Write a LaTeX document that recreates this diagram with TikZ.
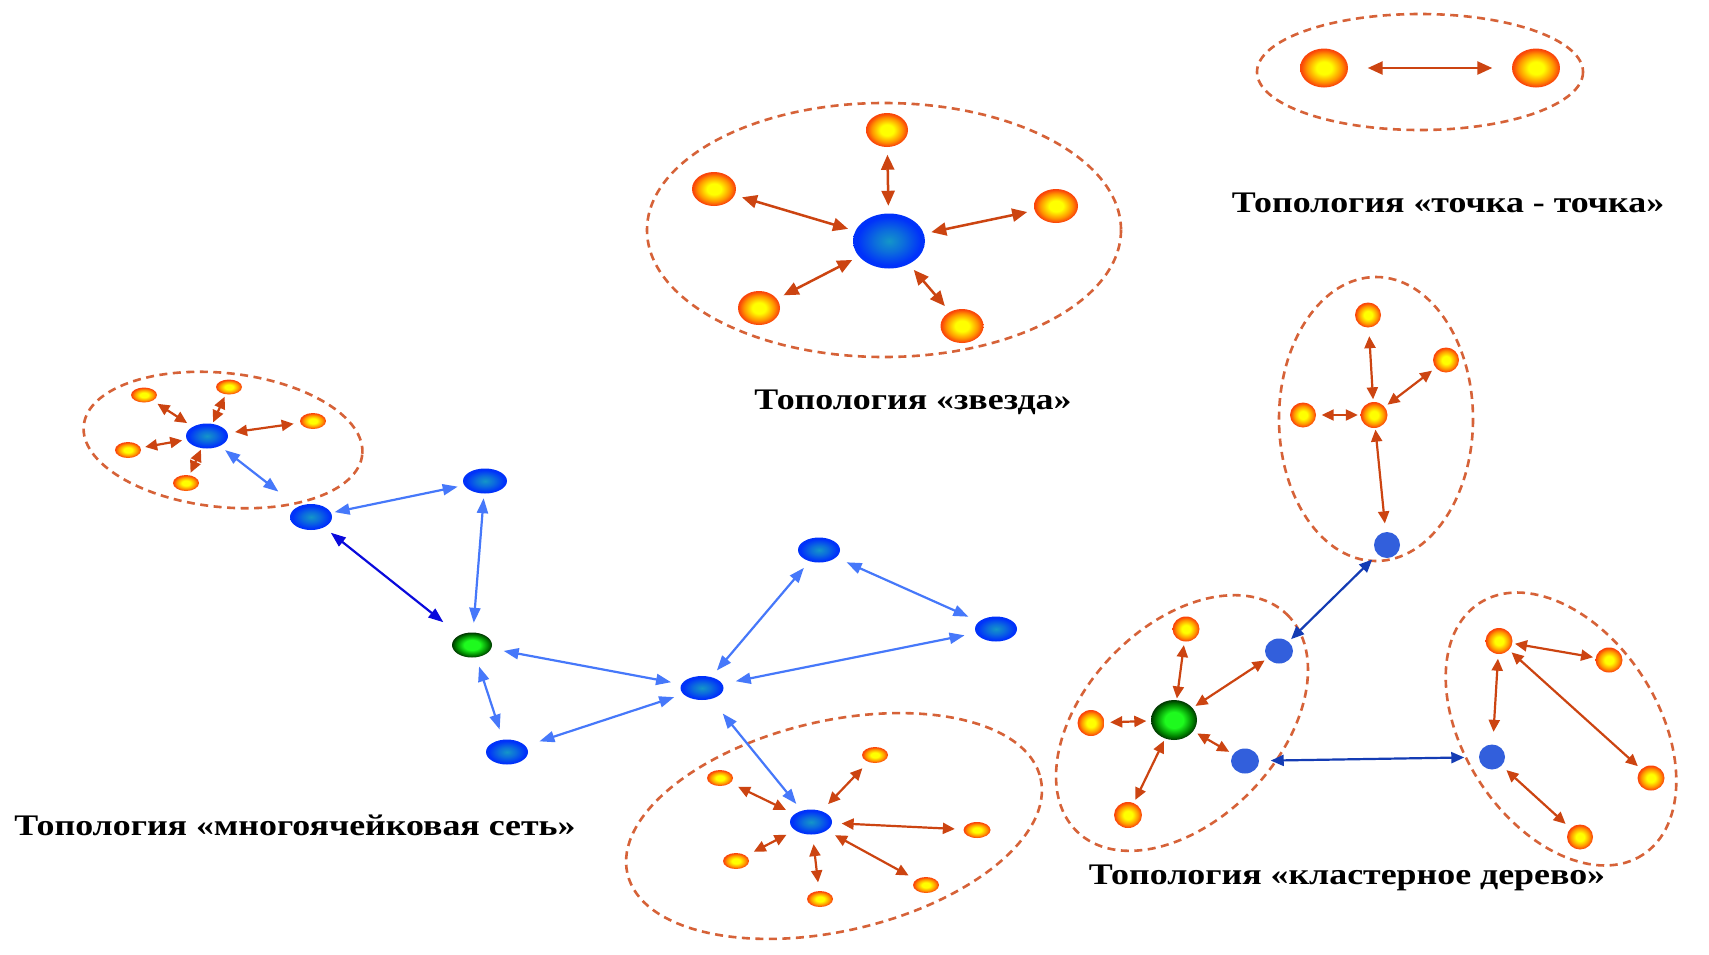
\documentclass[tikz,border=0pt]{standalone}
\usepackage{fontspec}
\newfontfamily\lblfont[FakeStretch=1.2]{Liberation Serif}
\usetikzlibrary{arrows.meta,shapes.geometric}
\definecolor{grpc}{RGB}{214,98,56}
\definecolor{oarc}{RGB}{204,68,17}
\definecolor{lbc}{RGB}{70,120,250}
\definecolor{dbc}{RGB}{10,10,220}
\definecolor{tbc}{RGB}{20,60,180}
\definecolor{flatb}{RGB}{50,95,220}
\definecolor{orbY}{RGB}{255,255,0}
\definecolor{orbO}{RGB}{255,150,0}
\definecolor{orbR}{RGB}{250,70,10}
\definecolor{bluC}{RGB}{20,150,200}
\definecolor{bluE}{RGB}{0,50,250}
\definecolor{grnC}{RGB}{30,250,30}
\definecolor{grnE}{RGB}{0,130,0}
\definecolor{grnD}{RGB}{0,55,0}
\pgfdeclareradialshading{orbsh}{\pgfpoint{0bp}{0bp}}{color(0bp)=(orbY); color(8bp)=(orbY); color(18bp)=(orbO); color(24bp)=(orbR); color(50bp)=(orbR)}
\pgfdeclareradialshading{blush}{\pgfpoint{0bp}{0bp}}{color(0bp)=(bluC); color(10bp)=(bluC!60!bluE); color(22bp)=(bluE); color(50bp)=(bluE)}
\pgfdeclareradialshading{grnsh}{\pgfpoint{0bp}{0bp}}{color(0bp)=(grnC); color(10bp)=(grnC); color(20bp)=(grnE); color(25bp)=(grnD); color(50bp)=(grnD)}
\begin{document}
\begin{tikzpicture}[x=0.01cm,y=-0.01cm,
  wh/.style 2 args={minimum width=#1*0.01cm,minimum height=#2*0.01cm},
  orb/.style={ellipse,inner sep=0pt,shading=orbsh},
  bnode/.style={ellipse,inner sep=0pt,shading=blush},
  gnode/.style={ellipse,inner sep=0pt,shading=grnsh},
  fnode/.style={ellipse,inner sep=0pt,fill=flatb,minimum width=0.26cm,minimum height=0.26cm},
  grp/.style={draw=grpc,line width=0.026cm,dash pattern=on 0.08cm off 0.055cm},
  oa/.style={draw=oarc,line width=0.022cm,{Triangle[length=0.12cm,width=0.11cm]}-{Triangle[length=0.12cm,width=0.11cm]},shorten <=0.05cm,shorten >=0.05cm},
  obig/.style={draw=oarc,line width=0.025cm,{Triangle[length=0.15cm,width=0.13cm]}-{Triangle[length=0.15cm,width=0.13cm]},shorten <=0.07cm,shorten >=0.07cm},
  la/.style={draw=lbc,line width=0.022cm,{Triangle[length=0.15cm,width=0.11cm]}-{Triangle[length=0.15cm,width=0.11cm]}},
  da/.style={draw=dbc,line width=0.022cm,{Triangle[length=0.15cm,width=0.11cm]}-{Triangle[length=0.15cm,width=0.11cm]}},
  ta/.style={draw=tbc,line width=0.022cm,{Triangle[length=0.13cm,width=0.11cm]}-{Triangle[length=0.13cm,width=0.11cm]}},
  lbl/.style={font=\lblfont\bfseries\fontsize{8.5pt}{10pt}\selectfont,inner sep=0pt,text=black}
]
\useasboundingbox (0,0) rectangle (1709,954);
\fill[white] (0,0) rectangle (1709,954);

% ---------- Star ----------
\draw[grp] (884,230) ellipse [x radius=237, y radius=127];
\node[bnode,wh={72}{55}] (s0) at (889,241) {};
\node[orb,wh={42}{34}] (s1) at (887,130) {};
\node[orb,wh={44}{34}] (s2) at (714,189) {};
\node[orb,wh={44}{34}] (s3) at (1056,206) {};
\node[orb,wh={42}{34}] (s4) at (759,308) {};
\node[orb,wh={43}{34}] (s5) at (962,326) {};
\draw[obig] (s0) -- (s1);
\draw[obig] (s0) -- (s2);
\draw[obig] (s0) -- (s3);
\draw[obig] (s0) -- (s4);
\draw[obig] (s0) -- (s5);
\node[lbl] (lstar) at (913,402) {Топология «звезда»};

% ---------- Point to point ----------
\draw[grp] (1420,72) ellipse [x radius=163, y radius=58];
\node[orb,wh={48}{39}] (p1) at (1324,68) {};
\node[orb,wh={48}{39}] (p2) at (1536,68) {};
\draw[obig,shorten <=0.19cm,shorten >=0.19cm] (p1) -- (p2);
\node[lbl] (lp2p) at (1448,203) {Топология «точка - точка»};

% ---------- Mesh ----------
\draw[grp] (223,440) ellipse [x radius=140, y radius=67, rotate=-6];
\node[bnode,wh={42}{25}] (h1) at (207,436) {};
\node[orb,wh={26}{15}] (m1) at (144,395) {};
\node[orb,wh={26}{15}] (m2) at (229,387) {};
\node[orb,wh={26}{16}] (m3) at (313,421) {};
\node[orb,wh={26}{16}] (m4) at (128,450) {};
\node[orb,wh={26}{16}] (m5) at (186,483) {};
\draw[oa,shorten <=0.06cm,shorten >=0.05cm] (h1) -- (m1);
\draw[oa,shorten <=0.01cm,shorten >=0.02cm] (h1) -- (m2);
\draw[oa,shorten <=0.07cm,shorten >=0.06cm] (h1) -- (m3);
\draw[oa,shorten <=0.04cm,shorten >=0.04cm] (h1) -- (m4);
\draw[oa,shorten <=0.01cm,shorten >=0.02cm] (h1) -- (m5);

\node[bnode,wh={42}{26}] (A) at (311,517) {};
\node[bnode,wh={44}{25}] (B) at (485,481) {};
\node[gnode,wh={40}{25}] (G) at (472,645) {};
\node[bnode,wh={42}{25}] (C) at (507,752) {};
\node[bnode,wh={43}{24}] (D) at (702,688) {};
\node[bnode,wh={42}{25}] (E) at (819,550) {};
\node[bnode,wh={42}{25}] (F) at (996,629) {};

\draw[la,shorten <=0.06cm,shorten >=0.24cm] (h1) -- (A);
\draw[la,shorten <=0.03cm,shorten >=0.06cm] (A) -- (B);
\draw[da,shorten <=0.08cm,shorten >=0.2cm] (A) -- (G);
\draw[la,shorten <=0.04cm,shorten >=0.09cm] (B) -- (G);
\draw[la,shorten <=0.12cm,shorten >=0.1cm] (G) -- (D);
\draw[la,shorten <=0.09cm,shorten >=0.1cm] (G) -- (C);
\draw[la,shorten <=0.14cm,shorten >=0.09cm] (C) -- (D);
\draw[la,shorten <=0.08cm,shorten >=0.08cm] (D) -- (E);
\draw[la,shorten <=0.11cm,shorten >=0.11cm] (E) -- (F);
\draw[la,shorten <=0.13cm,shorten >=0.11cm] (D) -- (F);

\draw[grp] (834,826) ellipse [x radius=212, y radius=105, rotate=13];
\node[bnode,wh={42}{25}] (h2) at (811,822) {};
\draw[la,shorten <=0.18cm,shorten >=0.08cm] (D) -- (h2);
\node[orb,wh={26}{16}] (n1) at (720,778) {};
\node[orb,wh={26}{16}] (n2) at (875,755) {};
\node[orb,wh={27}{16}] (n3) at (977,830) {};
\node[orb,wh={26}{16}] (n4) at (736,861) {};
\node[orb,wh={26}{16}] (n5) at (820,899) {};
\node[orb,wh={26}{16}] (n6) at (926,885) {};
\foreach \m in {n1,n2,n3,n4,n5,n6} \draw[oa,shorten <=0.09cm,shorten >=0.08cm] (h2) -- (\m);
\node[lbl] (lmesh) at (295,825) {Топология «многоячейковая сеть»};

% ---------- Cluster tree ----------
\draw[grp] (1376,419) ellipse [x radius=97, y radius=142];
\node[orb,wh={26}{25}] (t1) at (1368,315) {};
\node[orb,wh={26}{25}] (t2) at (1446,360) {};
\node[orb,wh={26}{25}] (t3) at (1303,415) {};
\node[orb,wh={27}{26}] (tc) at (1374,415) {};
\node[fnode] (tb) at (1387,545) {};
\draw[oa,shorten <=0.02cm,shorten >=0.08cm] (tc) -- (t1);
\draw[oa,shorten <=0.03cm,shorten >=0.04cm] (tc) -- (t2);
\draw[oa,shorten <=0.02cm,shorten >=0.05cm] (tc) -- (t3);
\draw[oa,shorten <=0.01cm,shorten >=0.08cm] (tc) -- (tb);

\draw[grp] (1182,723) ellipse [x radius=151, y radius=97, rotate=46];
\node[gnode,wh={46}{40}] (g2) at (1174,720) {};
\node[orb,wh={27}{25}] (u1) at (1186,629) {};
\node[orb,wh={27}{26}] (u2) at (1091,723) {};
\node[orb,wh={28}{26}] (u3) at (1128,815) {};
\node[fnode,wh={28}{25}] (b1) at (1279,651) {};
\node[fnode,wh={28}{25}] (b2) at (1245,761) {};
\draw[oa,shorten <=0.01cm,shorten >=0.03cm] (g2) -- (u1);
\draw[oa,shorten <=0.04cm,shorten >=0.05cm] (g2) -- (u2);
\draw[oa,shorten <=0.02cm,shorten >=0.03cm] (g2) -- (u3);
\draw[oa,shorten <=0.03cm,shorten >=0.03cm] (g2) -- (b1);
\draw[oa,shorten <=0.04cm,shorten >=0.04cm] (g2) -- (b2);

\draw[grp] (1561,729) ellipse [x radius=150, y radius=97, rotate=-57];
\node[orb,wh={27}{26}] (r1) at (1499,641) {};
\node[orb,wh={27}{25}] (r2) at (1609,660) {};
\node[orb,wh={27}{25}] (r3) at (1651,778) {};
\node[orb,wh={26}{25}] (r4) at (1580,837) {};
\node[fnode,wh={26}{25}] (rb) at (1492,757) {};
\draw[oa,shorten <=0.02cm,shorten >=0.02cm] (r1) -- (r2);
\draw[oa,shorten <=0.03cm,shorten >=0.04cm] (r1) -- (r3);
\draw[oa,shorten <=0.04cm,shorten >=0.12cm] (r1) -- (rb);
\draw[oa,shorten <=0.06cm,shorten >=0.06cm] (rb) -- (r4);

\draw[ta,shorten <=0.03cm,shorten >=0.07cm] (b1) -- (tb);
\draw[ta,shorten <=0.11cm,shorten >=0.14cm] (b2) -- (rb);
\node[lbl] (ltree) at (1347,878) {Топология «кластерное дерево»};
\end{tikzpicture}
\end{document}
